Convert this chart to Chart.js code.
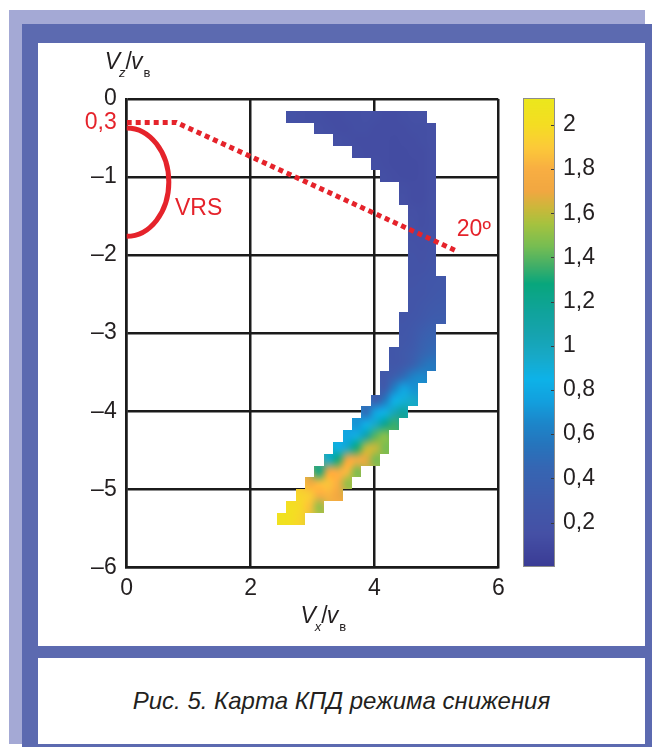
<!DOCTYPE html>
<html>
<head>
<meta charset="utf-8">
<script src="https://cdn.jsdelivr.net/npm/chart.js@4.4.1/dist/chart.umd.min.js"></script>
<style>
  html, body { margin: 0; padding: 0; background: #fff; }
  body { width: 652px; height: 747px; position: relative; overflow: hidden;
         font-family: "Liberation Sans", Arial, sans-serif; }
  .frame-back  { position: absolute; left: 9px;  top: 10px; width: 636px; height: 734px; background: #a4a9d5; }
  .frame-front { position: absolute; left: 22px; top: 24px; width: 630px; height: 723px; background: #5c6ab0; }
  .panel       { position: absolute; left: 38px; top: 43px; width: 607px; height: 603px; background: #fff; }
  .caption-panel { position: absolute; left: 38px; top: 658px; width: 607px; height: 86px; background: #fff;
                   display: flex; align-items: center; justify-content: center; }
  .caption { font-style: italic; font-size: 24px; color: #231f20; }
  #main { position: absolute; left: 0; top: 0; }
  #cbar { position: absolute; left: 500px; top: 73px; }
</style>
</head>
<body>
<div class="frame-back"></div>
<div class="frame-front"></div>
<div class="panel"></div>
<div class="caption-panel"><span class="caption">Рис. 5. Карта КПД режима снижения</span></div>
<canvas id="main" width="652" height="747"></canvas>
<canvas id="cbar" width="140" height="519"></canvas>

<script>
// ---- axes ----
const xTicks = [0, 2, 4, 6];
const yTicks = [0, -1, -2, -3, -4, -5, -6];
const colorbarTicks = [0.2, 0.4, 0.6, 0.8, 1, 1.2, 1.4, 1.6, 1.8, 2];
const etaMax = 2.12;

// ---- efficiency map: regular grid in Vx/vв and Vz/vв ----
const gridStep = 0.1515;          // cell size in both directions
const firstRow = 1;               // row r spans Vz from -(r+1)*step to -r*step
const rowFirstCol = [17, 20, 22, 24, 26, 27, 29, 29, 30, 30, 30, 30, 30, 30, 30, 30, 30, 29,
                     29, 29, 28, 28, 27, 27, 26, 25, 24, 23, 22, 21, 20, 19, 18, 17, 16];
const etaRows = [
  [0.17, 0.15, 0.14, 0.14, 0.13, 0.13, 0.14, 0.14, 0.15, 0.14, 0.13, 0.13, 0.14, 0.15, 0.16],
  [0.15, 0.14, 0.13, 0.13, 0.14, 0.14, 0.13, 0.13, 0.13, 0.13, 0.14, 0.14, 0.15],
  [0.15, 0.14, 0.13, 0.13, 0.13, 0.13, 0.12, 0.13, 0.13, 0.14, 0.15],
  [0.14, 0.13, 0.13, 0.13, 0.12, 0.12, 0.13, 0.13, 0.15],
  [0.14, 0.13, 0.12, 0.12, 0.12, 0.13, 0.15],
  [0.14, 0.13, 0.12, 0.12, 0.13, 0.15],
  [0.14, 0.13, 0.13, 0.15],
  [0.15, 0.13, 0.13, 0.16],
  [0.15, 0.14, 0.16],
  [0.16, 0.14, 0.17],
  [0.17, 0.15, 0.18],
  [0.18, 0.17, 0.19],
  [0.19, 0.18, 0.21],
  [0.20, 0.20, 0.23],
  [0.21, 0.22, 0.24, 0.25],
  [0.22, 0.23, 0.26, 0.27],
  [0.23, 0.25, 0.28, 0.30],
  [0.22, 0.24, 0.27, 0.31, 0.32],
  [0.24, 0.27, 0.33, 0.38],
  [0.25, 0.29, 0.37, 0.43],
  [0.24, 0.28, 0.33, 0.42, 0.48],
  [0.25, 0.30, 0.40, 0.52, 0.58],
  [0.27, 0.36, 0.50, 0.63, 0.66],
  [0.30, 0.62, 0.78, 0.70],
  [0.32, 0.58, 0.84, 0.90, 0.95],
  [0.48, 0.78, 0.86, 1.02, 1.15],
  [0.70, 0.84, 0.95, 1.20, 1.35],
  [0.78, 0.88, 1.08, 1.40, 1.50],
  [0.84, 0.96, 1.30, 1.60, 1.62, 1.45],
  [0.94, 1.30, 1.72, 1.78, 1.68, 1.45],
  [1.25, 1.72, 1.80, 1.84, 1.45],
  [1.74, 1.85, 1.88, 1.80, 1.50],
  [1.95, 1.92, 1.80, 1.82, 1.70],
  [2.02, 1.98, 1.86, 1.50],
  [2.05, 2.02, 1.96]
];

// ---- annotations ----
const guideStartVz = -0.3;        // labelled "0,3"
const guideKneeVx = 0.8;
const guideEndVx = 5.35;
const guideAngleDeg = 20;         // labelled "20º"
const vrsTopVz = -0.37;
const vrsBottomVz = -1.76;
const vrsMaxVx = 0.68;

// ---- colour scale ----
const cmapStops = [
  [0.00, '#3a3b95'], [0.15, '#4550a5'], [0.30, '#3f5aab'], [0.45, '#3566b3'],
  [0.55, '#2674bc'], [0.65, '#1c86ca'], [0.75, '#12a0de'], [0.85, '#0db2e8'],
  [0.95, '#17a9c8'], [1.05, '#16a3af'], [1.15, '#10a39c'], [1.28, '#08a67c'],
  [1.36, '#40ae68'], [1.45, '#76bd52'], [1.55, '#a5c23f'], [1.62, '#c9b83a'],
  [1.70, '#f1a741'], [1.80, '#f8ae42'], [1.90, '#fcca38'], [2.00, '#f4dd22'],
  [2.12, '#ebe71c']
];

const RED = '#e5232b';
const INK = '#231f20';
const FAMILY = '"Liberation Sans", Arial, sans-serif';

function hexToRgb(h) {
  return [parseInt(h.slice(1, 3), 16), parseInt(h.slice(3, 5), 16), parseInt(h.slice(5, 7), 16)];
}
function colorRgb(v) {
  if (v <= cmapStops[0][0]) return hexToRgb(cmapStops[0][1]);
  for (let i = 1; i < cmapStops.length; i++) {
    const [v1, c1] = cmapStops[i];
    if (v <= v1) {
      const [v0, c0] = cmapStops[i - 1];
      const t = (v - v0) / (v1 - v0);
      const a = hexToRgb(c0), b = hexToRgb(c1);
      return a.map((x, k) => Math.round(x + (b[k] - x) * t));
    }
  }
  return hexToRgb(cmapStops[cmapStops.length - 1][1]);
}
function colorFor(v) {
  const m = colorRgb(v);
  return `rgb(${m[0]},${m[1]},${m[2]})`;
}
function fmt(v) {
  return String(v).replace('.', ',').replace('-', '\u2013');
}

// dotted 20º guide line from the "0,3" level
const guidePoints = [
  { x: 0, y: guideStartVz },
  { x: guideKneeVx, y: guideStartVz },
  { x: guideEndVx, y: guideStartVz - Math.tan(guideAngleDeg * Math.PI / 180) * (guideEndVx - guideKneeVx) }
];

// one pixel per grid cell; scaled up with smoothing for interpolated shading
const minCol = Math.min(...rowFirstCol);
const maxCol = Math.max(...etaRows.map((r, i) => rowFirstCol[i] + r.length - 1));
const nCols = maxCol - minCol + 1;
const nRows = etaRows.length;
const cellImage = document.createElement('canvas');
cellImage.width = nCols;
cellImage.height = nRows;
(function paintCells() {
  const cctx = cellImage.getContext('2d');
  const img = cctx.createImageData(nCols, nRows);
  const d = img.data;
  const filled = new Uint8Array(nCols * nRows);
  etaRows.forEach((vals, i) => vals.forEach((v, j) => {
    const k = i * nCols + (rowFirstCol[i] + j - minCol);
    const [r, g, b] = colorRgb(v);
    d[k * 4] = r; d[k * 4 + 1] = g; d[k * 4 + 2] = b; d[k * 4 + 3] = 255;
    filled[k] = 1;
  }));
  // extend edge colours outward so smoothing does not fade the boundary
  for (let pass = 0; pass < 2; pass++) {
    const next = filled.slice();
    for (let i = 0; i < nRows; i++) {
      for (let j = 0; j < nCols; j++) {
        const k = i * nCols + j;
        if (filled[k]) continue;
        let r = 0, g = 0, b = 0, n = 0;
        for (let di = -1; di <= 1; di++) {
          for (let dj = -1; dj <= 1; dj++) {
            const ii = i + di, jj = j + dj;
            if (ii < 0 || jj < 0 || ii >= nRows || jj >= nCols) continue;
            const kk = ii * nCols + jj;
            if (!filled[kk]) continue;
            r += d[kk * 4]; g += d[kk * 4 + 1]; b += d[kk * 4 + 2]; n++;
          }
        }
        if (n) {
          d[k * 4] = r / n; d[k * 4 + 1] = g / n; d[k * 4 + 2] = b / n; d[k * 4 + 3] = 255;
          next[k] = 1;
        }
      }
    }
    filled.set(next);
  }
  cctx.putImageData(img, 0, 0);
})();

// heatmap, painted under the grid and clipped to the occupied cells
const heatmapLayer = {
  id: 'heatmapLayer',
  beforeDatasetsDraw(chart) {
    const { ctx, scales: { x, y } } = chart;
    ctx.save();
    ctx.beginPath();
    etaRows.forEach((vals, i) => {
      const row = firstRow + i;
      const top = Math.round(y.getPixelForValue(-row * gridStep));
      const bottom = Math.round(y.getPixelForValue(-(row + 1) * gridStep));
      const left = Math.round(x.getPixelForValue(rowFirstCol[i] * gridStep));
      const right = Math.round(x.getPixelForValue((rowFirstCol[i] + vals.length) * gridStep));
      ctx.rect(left, top, right - left, bottom - top);
    });
    ctx.clip();
    const ix = x.getPixelForValue(minCol * gridStep);
    const iy = y.getPixelForValue(-firstRow * gridStep);
    const iw = x.getPixelForValue((maxCol + 1) * gridStep) - ix;
    const ih = y.getPixelForValue(-(firstRow + nRows) * gridStep) - iy;
    ctx.imageSmoothingEnabled = true;
    ctx.imageSmoothingQuality = 'high';
    ctx.drawImage(cellImage, 0, 0, nCols, nRows, ix, iy, iw, ih);
    ctx.restore();
  }
};

function drawParts(ctx, parts, x, baseline) {
  let cx = x;
  parts.forEach(p => {
    ctx.font = p.font;
    ctx.fillText(p.t, cx, baseline + (p.dy || 0));
    cx += ctx.measureText(p.t).width + (p.gap || 0);
  });
}

// VRS boundary, red labels and axis titles
const annotationLayer = {
  id: 'annotationLayer',
  afterDraw(chart) {
    const { ctx, chartArea: ca, scales: { x, y } } = chart;
    ctx.save();

    const cx = x.getPixelForValue(0);
    const cy = y.getPixelForValue((vrsTopVz + vrsBottomVz) / 2);
    const rx = x.getPixelForValue(vrsMaxVx) - cx;
    const ry = y.getPixelForValue(vrsBottomVz) - cy;
    ctx.beginPath();
    ctx.ellipse(cx, cy, rx, ry, 0, -Math.PI / 2, Math.PI / 2);
    ctx.strokeStyle = RED;
    ctx.lineWidth = 5;
    ctx.stroke();

    ctx.fillStyle = RED;
    ctx.font = `23px ${FAMILY}`;
    ctx.textBaseline = 'middle';
    ctx.textAlign = 'right';
    ctx.fillText(fmt(-guideStartVz), ca.left - 10, y.getPixelForValue(guideStartVz));
    ctx.textAlign = 'left';
    ctx.fillText('VRS', x.getPixelForValue(0.78), y.getPixelForValue(-1.4));
    ctx.fillText(guideAngleDeg + 'º', x.getPixelForValue(5.33), y.getPixelForValue(-1.67));

    ctx.fillStyle = INK;
    ctx.textBaseline = 'alphabetic';
    const it = `italic 23px ${FAMILY}`;
    const sub = `italic 13px ${FAMILY}`;
    const up = `23px ${FAMILY}`;
    const subUp = `13px ${FAMILY}`;
    drawParts(ctx, [
      { t: 'V', font: it, gap: -1 }, { t: 'z', font: sub, dy: 8 }, { t: '/', font: up, gap: -1 },
      { t: 'v', font: it, gap: 1 }, { t: 'в', font: subUp, dy: 8 }
    ], ca.left - 22, ca.top - 30);
    drawParts(ctx, [
      { t: 'V', font: it, gap: -1 }, { t: 'x', font: sub, dy: 8 }, { t: '/', font: up, gap: -1 },
      { t: 'v', font: it, gap: 1 }, { t: 'в', font: subUp, dy: 8 }
    ], (ca.left + ca.right) / 2 - 12, ca.bottom + 56);

    ctx.restore();
  }
};

const tickFont = { size: 23, family: FAMILY };
const gridColor = '#1b1b1b';

new Chart(document.getElementById('main'), {
  type: 'scatter',
  data: {
    datasets: [{
      data: guidePoints,
      showLine: true,
      borderColor: RED,
      borderWidth: 5,
      borderDash: [5, 4],
      borderCapStyle: 'butt',
      pointRadius: 0,
      fill: false
    }]
  },
  options: {
    responsive: false,
    animation: false,
    devicePixelRatio: 1,
    layout: { padding: { left: 76.7, right: 153.7, top: 99, bottom: 139.7 } },
    plugins: { legend: { display: false }, tooltip: { enabled: false } },
    scales: {
      x: {
        type: 'linear', min: 0, max: 6, z: 1,
        afterBuildTicks(s) { s.ticks = xTicks.map(v => ({ value: v })); },
        afterFit(s) { s.height = 40; },
        ticks: { padding: 8, font: tickFont, color: INK, callback: v => fmt(v) },
        grid: { color: gridColor, lineWidth: 2.5, drawTicks: false },
        border: { color: gridColor, width: 2.5 }
      },
      y: {
        type: 'linear', min: -6, max: 0, z: 1,
        afterBuildTicks(s) { s.ticks = yTicks.map(v => ({ value: v })); },
        afterFit(s) { s.width = 50; },
        ticks: { padding: 10, font: tickFont, color: INK, callback: v => fmt(v) },
        grid: { color: gridColor, lineWidth: 2.5, drawTicks: false },
        border: { color: gridColor, width: 2.5 }
      }
    }
  },
  plugins: [heatmapLayer, annotationLayer]
});

// colour bar
const colorbarLayer = {
  id: 'colorbarLayer',
  beforeDatasetsDraw(chart) {
    const { ctx, chartArea: ca, scales: { y } } = chart;
    ctx.save();
    const top = Math.round(ca.top), bottom = Math.round(ca.bottom);
    const left = Math.round(ca.left), right = Math.round(ca.right);
    for (let py = top; py < bottom; py++) {
      ctx.fillStyle = colorFor(y.getValueForPixel(py + 0.5));
      ctx.fillRect(left, py, right - left, 1);
    }
    ctx.strokeStyle = '#8c8c8c';
    ctx.lineWidth = 1;
    ctx.strokeRect(left + 0.5, top + 0.5, right - left - 1, bottom - top - 1);
    ctx.strokeStyle = '#3a3a3a';
    colorbarTicks.forEach(v => {
      const py = Math.round(y.getPixelForValue(v)) + 0.5;
      ctx.beginPath();
      ctx.moveTo(right - 4, py);
      ctx.lineTo(right - 1, py);
      ctx.stroke();
    });
    ctx.restore();
  }
};

new Chart(document.getElementById('cbar'), {
  type: 'scatter',
  data: { datasets: [] },
  options: {
    responsive: false,
    animation: false,
    devicePixelRatio: 1,
    layout: { padding: { left: 23.3, right: 25, top: 25.3, bottom: 25.3 } },
    plugins: { legend: { display: false }, tooltip: { enabled: false } },
    scales: {
      x: { display: false, min: 0, max: 1 },
      y: {
        position: 'right', min: 0, max: etaMax,
        afterBuildTicks(s) { s.ticks = colorbarTicks.map(v => ({ value: v })); },
        afterFit(s) { s.width = 60; },
        ticks: { padding: 8, font: tickFont, color: INK, callback: v => fmt(v) },
        grid: { display: false, drawTicks: false },
        border: { display: false }
      }
    }
  },
  plugins: [colorbarLayer]
});
</script>
</body>
</html>
